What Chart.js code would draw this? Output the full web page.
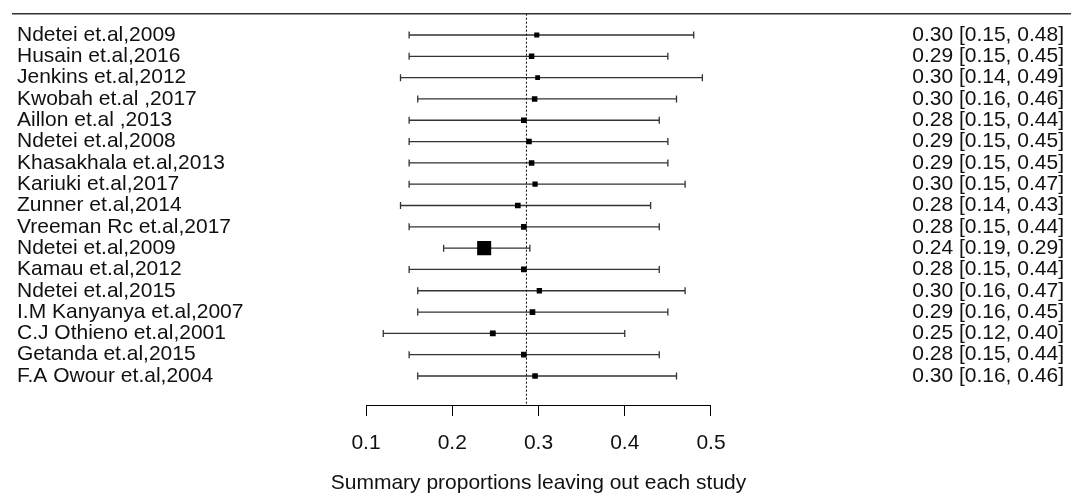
<!DOCTYPE html>
<html>
<head>
<meta charset="utf-8">
<script src="https://cdn.jsdelivr.net/npm/chart.js@4.4.0/dist/chart.umd.min.js"></script>
<style>
  html, body { margin: 0; padding: 0; background: #fff; }
  canvas { display: block; }
</style>
</head>
<body>
<canvas id="forest" width="1071" height="496"></canvas>
<script>
// leave-one-out results, one row per omitted study
const studies = [
    'Ndetei et.al,2009', 'Husain et.al,2016', 'Jenkins et.al,2012', 'Kwobah et.al ,2017',
    'Aillon et.al ,2013', 'Ndetei et.al,2008', 'Khasakhala et.al,2013', 'Kariuki et.al,2017',
    'Zunner et.al,2014', 'Vreeman Rc et.al,2017', 'Ndetei et.al,2009', 'Kamau et.al,2012',
    'Ndetei et.al,2015', 'I.M Kanyanya et.al,2007', 'C.J Othieno et.al,2001', 'Getanda et.al,2015',
    'F.A Owour et.al,2004'
];
const estimates = [0.298, 0.292, 0.299, 0.2955, 0.283, 0.289, 0.292, 0.296, 0.276, 0.283,
                   0.237, 0.283, 0.301, 0.293, 0.247, 0.283, 0.296];
const lower = [0.15, 0.15, 0.14, 0.16, 0.15, 0.15, 0.15, 0.15, 0.14, 0.15,
               0.19, 0.15, 0.16, 0.16, 0.12, 0.15, 0.16];
const upper = [0.48, 0.45, 0.49, 0.46, 0.44, 0.45, 0.45, 0.47, 0.43, 0.44,
               0.29, 0.44, 0.47, 0.45, 0.40, 0.44, 0.46];
const pooled = 0.286;
const xTicks = [0.1, 0.2, 0.3, 0.4, 0.5];
const xTitle = 'Summary proportions leaving out each study';

const rowMax = 18.36;   // y range so the rows sit where the original puts them
const annotations = estimates.map((e, i) =>
    `${e.toFixed(2)} [${lower[i].toFixed(2)}, ${upper[i].toFixed(2)}]`);
const rowTicks = () => studies.map((_, i) => ({ value: i + 1 }));

const font = { family: "'Liberation Sans', Arial, sans-serif", size: 21, lineHeight: 1 };

// square size grows with precision (narrower CI -> bigger box)
const boxRadius = ctx => {
    const i = ctx.dataIndex;
    return 3.9 * Math.pow(0.30 / (upper[i] - lower[i]), 0.85);
};

const whiskers = {
    id: 'whiskers',
    beforeDatasetsDraw(chart) {
        const { ctx, scales: { x, y } } = chart;
        ctx.save();
        ctx.strokeStyle = '#333';
        ctx.lineWidth = 1.3;
        studies.forEach((_, i) => {
            const py = y.getPixelForValue(i + 1);
            const x0 = x.getPixelForValue(lower[i]);
            const x1 = x.getPixelForValue(upper[i]);
            ctx.beginPath();
            ctx.moveTo(x0, py); ctx.lineTo(x1, py);
            ctx.moveTo(x0, py - 3.5); ctx.lineTo(x0, py + 3.5);
            ctx.moveTo(x1, py - 3.5); ctx.lineTo(x1, py + 3.5);
            ctx.stroke();
        });
        ctx.restore();
    }
};

const frame = {
    id: 'frame',
    afterDraw(chart) {
        const { ctx, scales: { x, y } } = chart;
        ctx.save();
        // rule above the rows
        ctx.strokeStyle = '#333';
        ctx.lineWidth = 1.5;
        const top = y.getPixelForValue(0);
        ctx.beginPath();
        ctx.moveTo(12, top); ctx.lineTo(chart.width, top);
        ctx.stroke();
        // axis line only across the labelled range
        ctx.strokeStyle = '#000';
        ctx.lineWidth = 1;
        ctx.beginPath();
        ctx.moveTo(x.getPixelForValue(xTicks[0]), x.top + 0.5);
        ctx.lineTo(x.getPixelForValue(xTicks[xTicks.length - 1]), x.top + 0.5);
        ctx.stroke();
        ctx.restore();
    }
};

new Chart(document.getElementById('forest'), {
    type: 'scatter',
    data: {
        datasets: [
            {
                data: estimates.map((e, i) => ({ x: e, y: i + 1 })),
                pointStyle: 'rect',
                pointRadius: boxRadius,
                backgroundColor: '#000',
                borderWidth: 0
            },
            {
                type: 'line',
                data: [{ x: pooled, y: 0 }, { x: pooled, y: rowMax }],
                borderColor: '#000',
                borderWidth: 1,
                borderDash: [2, 2],
                pointRadius: 0
            }
        ]
    },
    options: {
        responsive: false,
        animation: false,
        layout: { padding: { top: 13.7, left: 17, right: 7, bottom: 0 } },
        plugins: { legend: { display: false }, tooltip: { enabled: false } },
        scales: {
            x: {
                type: 'linear',
                // symmetric around 0.3 so the axis title centres under the ticks
                min: -0.0345,
                max: 0.6345,
                afterBuildTicks: s => { s.ticks = xTicks.map(v => ({ value: v })); },
                ticks: { font, color: '#111', padding: 16.5, callback: v => String(v) },
                grid: { drawOnChartArea: false, drawTicks: true, tickLength: 11, color: '#000' },
                border: { display: false },
                title: { display: true, text: xTitle, font, color: '#111', padding: { top: 2.5, bottom: 2.5 } }
            },
            y: {
                type: 'linear',
                position: 'left',
                reverse: true,
                min: 0,
                max: rowMax,
                afterBuildTicks: s => { s.ticks = rowTicks(); },
                afterFit: s => { s.width = 233; },
                ticks: { font, color: '#111', padding: 0, autoSkip: false, crossAlign: 'far',
                         callback: v => studies[v - 1] },
                grid: { display: false },
                border: { display: false }
            },
            y2: {
                type: 'linear',
                position: 'right',
                reverse: true,
                min: 0,
                max: rowMax,
                afterBuildTicks: s => { s.ticks = rowTicks(); },
                afterFit: s => { s.width = 237; },
                ticks: { font, color: '#111', padding: 0, autoSkip: false, crossAlign: 'far',
                         callback: v => annotations[v - 1] },
                grid: { display: false },
                border: { display: false }
            }
        }
    },
    plugins: [whiskers, frame]
});
</script>
</body>
</html>
